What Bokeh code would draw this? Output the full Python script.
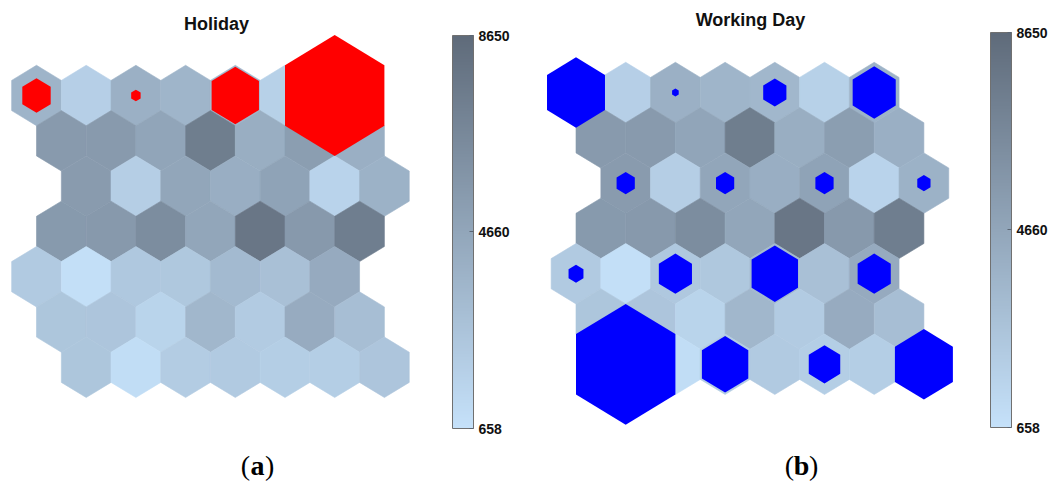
import numpy as np
from bokeh.plotting import figure
from bokeh.models import ColumnDataSource, LinearColorMapper, ColorBar, FixedTicker, Range1d
from bokeh.layouts import row
from bokeh.transform import transform
from bokeh.core.properties import value
from bokeh.embed import file_html
from bokeh.resources import INLINE

# ---------------- data ----------------
# SOM component plane (7 x 7 hexagonal map), value of each neuron, top row first
cnt_row0 = [3700, 1850, 3950, 3650, 3500, 1780, 3800]
cnt_row1 = [5450, 5450, 4700, 7380, 4150, 5200, 4000]
cnt_row2 = [5400, 1950, 4680, 4100, 4870, 1600, 3870]
cnt_row3 = [5480, 5500, 6350, 4680, 7900, 5550, 7350]
cnt_row4 = [2250, 830, 2350, 2400, 3300, 2900, 4350]
cnt_row5 = [2530, 2550, 1580, 3500, 2150, 4280, 3000]
cnt_row6 = [2500, 950, 2100, 2200, 1980, 1980, 2550]
cnt_plane = [cnt_row0, cnt_row1, cnt_row2, cnt_row3, cnt_row4, cnt_row5, cnt_row6]

# horizontal shift of every map row (in neuron units)
row_shift = [0, 0.5, 1, 0.5, 0, 0.5, 1]

cbar_low, cbar_high = 658, 8650
cbar_ticks = [658, 4660, 8650]

# hits of holiday samples
holiday_rows = [0, 0, 0, 0]
holiday_cols = [0, 2, 4, 6]
holiday_hits = [6, 2, 10, 21]

# hits of working-day samples
working_rows = [0, 0, 0, 0, 2, 2, 2, 2, 4, 4, 4, 4, 6, 6, 6, 6]
working_cols = [0, 2, 4, 6, 0, 2, 4, 6, 0, 2, 4, 6, 0, 2, 4, 6]
working_hits = [35, 4, 14, 26, 11, 11, 11, 8, 9, 20, 28, 20, 60, 28, 19, 35]

# ---------------- geometry / style ----------------
PX = 49.7          # pixels per neuron horizontally
ROW_PX = 45.3      # pixels between rows
RY = ROW_PX / PX
HH = RY / 1.5      # half height of a hexagon (data units)

low_rgb = np.array([197, 225, 250])
high_rgb = np.array([95, 107, 122])
palette = []
for t in np.linspace(0, 1, 256):
    c = np.round(low_rgb + t * (high_rgb - low_rgb)).astype(int)
    palette.append("#%02x%02x%02x" % tuple(c))
mapper = LinearColorMapper(palette=palette, low=cbar_low, high=cbar_high)


def hex_xy(cx, cy, s):
    w = 0.5 * s
    h = HH * s
    return ([cx, cx + w, cx + w, cx, cx - w, cx - w],
            [cy + h, cy + h / 2, cy - h / 2, cy - h, cy - h / 2, cy + h / 2])


def center(r, c):
    return c + row_shift[r], -r * RY


def make_panel(title, hit_rows, hit_cols, hits, hit_color, width, ox, oy,
               bar_left, bar_top, bar_bottom, title_px, title_py, letter, label_px):
    H = 481
    p = figure(width=width, height=H, output_backend="svg", toolbar_location=None,
               x_axis_location=None, y_axis_location=None, min_border=0,
               x_range=Range1d(-ox / PX, (width - ox) / PX),
               y_range=Range1d(-(H - oy) / PX, oy / PX))
    p.grid.visible = False
    p.outline_line_color = None
    p.background_fill_color = "white"

    def X(px):
        return (px - ox) / PX

    def Y(py):
        return (oy - py) / PX

    xs, ys, vals = [], [], []
    for r in range(7):
        for c in range(7):
            cx, cy = center(r, c)
            hx, hy = hex_xy(cx, cy, 1.0)
            xs.append(hx)
            ys.append(hy)
            vals.append(cnt_plane[r][c])
    src = ColumnDataSource(dict(xs=xs, ys=ys, v=vals))
    p.patches("xs", "ys", source=src, fill_color=transform("v", mapper),
              line_color=transform("v", mapper), line_width=0.6)

    hmax = max(hits)
    hxs, hys = [], []
    for r, c, h in zip(hit_rows, hit_cols, hits):
        cx, cy = center(r, c)
        hx, hy = hex_xy(cx, cy, 2.0 * h / hmax)
        hxs.append(hx)
        hys.append(hy)
    p.patches(hxs, hys, fill_color=hit_color, line_color=None)

    # title
    p.text(x=[X(title_px)], y=[Y(title_py)], text=[title], text_align="center",
           text_baseline="middle", text_font=value("Liberation Sans"),
           text_font_style="bold", text_font_size="18px", text_color="#111111")

    # sub-figure label "(a)" / "(b)"
    ly = Y(465)
    p.text(x=[X(label_px)], y=[ly], text=[letter], text_align="center",
           text_baseline="middle", text_font=value("Liberation Serif"),
           text_font_style="bold", text_font_size="28px", text_color="black")
    p.text(x=[X(label_px)], y=[ly], text=["("], x_offset=-7.5, text_align="right",
           text_baseline="middle", text_font=value("Liberation Serif"),
           text_font_size="28px", text_color="black")
    p.text(x=[X(label_px)], y=[ly], text=[")"], x_offset=7.5, text_align="left",
           text_baseline="middle", text_font=value("Liberation Serif"),
           text_font_size="28px", text_color="black")

    cb = ColorBar(color_mapper=mapper, ticker=FixedTicker(ticks=cbar_ticks),
                  width=21, height=bar_bottom - bar_top,
                  location=(bar_left, H - bar_bottom), padding=0,
                  background_fill_alpha=0, border_line_color=None,
                  bar_line_color="#707070", bar_line_width=1,
                  major_tick_line_color="#5a6573", major_tick_in=4, major_tick_out=0,
                  minor_tick_line_color=None, label_standoff=5,
                  major_label_text_font="Liberation Sans",
                  major_label_text_font_style="bold",
                  major_label_text_font_size="14px",
                  major_label_text_color="#111111")
    p.add_layout(cb, "center")
    return p


p1 = make_panel("Holiday", holiday_rows, holiday_cols, holiday_hits, "#ff0000",
                527, 36.0, 95.0, 452, 35, 428, 216, 23, "a", 257)
p2 = make_panel("Working Day", working_rows, working_cols, working_hits, "#0000ff",
                526, 48.5, 92.0, 463, 32, 427, 223, 19.5, "b", 274)

layout = row(p1, p2)
open("out.html", "w").write(file_html(layout, INLINE))
